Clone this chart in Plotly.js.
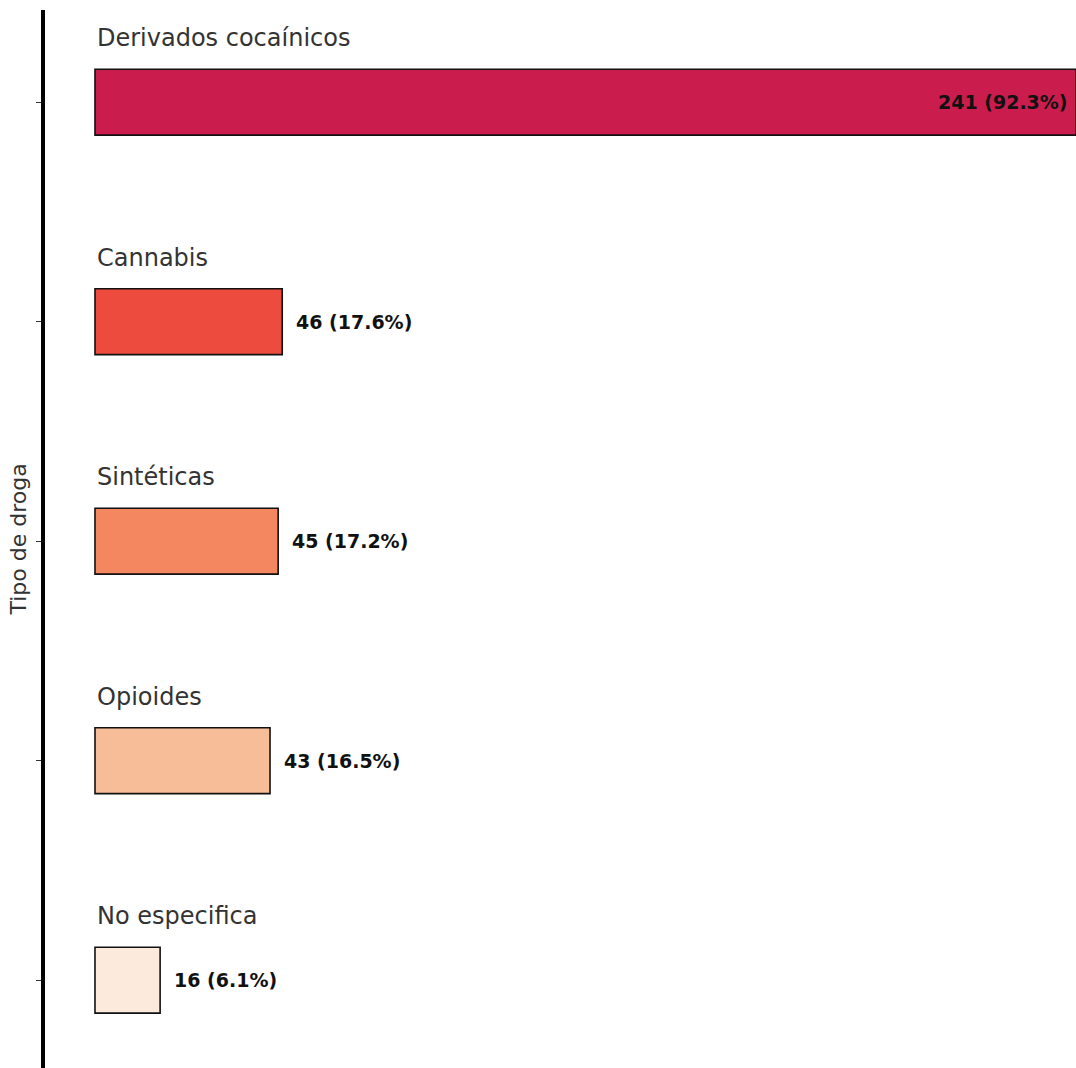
<!DOCTYPE html>
<html>
<head>
<meta charset="utf-8">
<script src="https://cdn.plot.ly/plotly-3.0.1.min.js"></script>
<style>html,body{margin:0;padding:0;background:#fff;}#chart{width:1076px;height:1068px;}</style>
</head>
<body>
<div id="chart"></div>
<script>
const categories = ["Derivados cocaínicos", "Cannabis", "Sintéticas", "Opioides", "No especifica"];
const counts = [241, 46, 45, 43, 16];
const percents = [92.3, 17.6, 17.2, 16.5, 6.1];
const colors = ["#CB1C4E", "#EE4B3F", "#F4875F", "#F6BD98", "#FCEBDD"];

const FONT = "DejaVu Sans, sans-serif";

const trace = {
  type: "bar",
  orientation: "h",
  y: categories,
  x: counts,
  width: 0.3,
  marker: { color: colors, line: { color: "#111", width: 1.6 } },
  hoverinfo: "skip",
  showlegend: false
};

const annotations = [];
categories.forEach((c, i) => {
  annotations.push({
    x: 0, y: c, xref: "x", yref: "y",
    text: c, showarrow: false, xanchor: "left", yanchor: "middle",
    xshift: 0, yshift: 64,
    font: { family: FONT, size: 24, color: "#333" }
  });
  const inside = counts[i] > 200;
  annotations.push({
    x: counts[i], y: c, xref: "x", yref: "y",
    text: "<b>" + counts[i] + " (" + percents[i].toFixed(1) + "%)</b>",
    showarrow: false, xanchor: inside ? "right" : "left", yanchor: "middle",
    xshift: inside ? -6 : 12,
    font: { family: FONT, size: 19, color: "#111" }
  });
});

const layout = {
  width: 1076, height: 1068,
  margin: { l: 45, r: 0, t: 10, b: 0 },
  paper_bgcolor: "#fff", plot_bgcolor: "#fff",
  xaxis: {
    range: [-12.28, 241],
    showgrid: false, zeroline: false, showticklabels: false, ticks: "", showline: false
  },
  yaxis: {
    type: "category",
    range: [4.4, -0.42],
    showgrid: false, zeroline: false, showticklabels: false,
    showline: true, linecolor: "#000", linewidth: 4,
    ticks: "outside", ticklen: 5, tickwidth: 1, tickcolor: "#333",
    title: { text: "Tipo de droga", standoff: 4, font: { family: FONT, size: 22, color: "#333" } }
  },
  annotations: annotations
};

Plotly.newPlot("chart", [trace], layout, { staticPlot: true, displayModeBar: false });
</script>
</body>
</html>
